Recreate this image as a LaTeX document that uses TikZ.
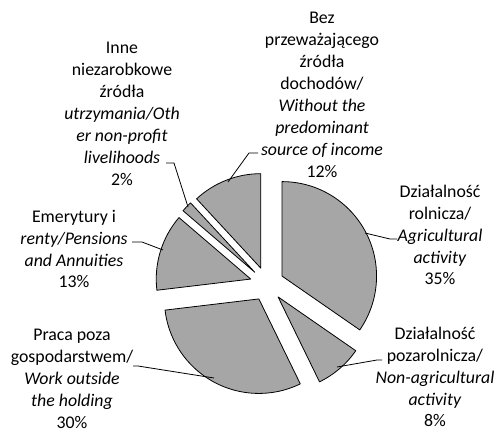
\documentclass[tikz,border=0pt]{standalone}
\usepackage{fontspec}
\setmainfont{Carlito}
\usetikzlibrary{calc}
\definecolor{pieGray}{RGB}{166,166,166}
\begin{document}
\begin{tikzpicture}[x=1pt,y=1pt,
  slice/.style={draw=black, line width=0.8pt, fill=pieGray, line join=round},
  lbl/.style={align=center, inner sep=0pt, font=\fontsize{17.8}{21.9}\selectfont},
  leader/.style={draw=black, line width=0.8pt}]
\useasboundingbox (0,0) rectangle (497,-433);
\coordinate (C) at (267,-284);
\foreach \a/\b/\n in {90/-34.7/agri, -34.7/-64/nonagri, -64/-173.2/work, -173.2/-220.6/pens, -220.6/-227.2/other, -227.2/-270/without} {
  \pgfmathsetmacro\m{(\a+\b)/2}
  \coordinate (tip-\n) at ($(C)+(\m:17)$);
  \draw[slice] (tip-\n) -- ++(\a:94.5) arc[start angle=\a, end angle=\b, radius=94.5] -- cycle;
}
% labels
\node[lbl] (lother) at (122,-114) {Inne\\niezarobkowe\\źródła\\\textit{utrzymania/Oth}\\\textit{er non-profit}\\\textit{livelihoods}\\2\%};
\node[lbl] (lwithout) at (322,-95) {Bez\\przeważającego\\źródła\\dochodów/\\\textit{Without the}\\\textit{predominant}\\\textit{source of income}\\12\%};
\node[lbl] (lagri) at (440,-235) {Działalność\\rolnicza/\\\textit{Agricultural}\\\textit{activity}\\35\%};
\node[lbl] (lnonagri) at (435,-377) {Działalność\\pozarolnicza/\\\textit{Non-agricultural}\\\textit{activity}\\8\%};
\node[lbl] (lpens) at (74,-249) {Emerytury i\\\textit{renty/Pensions}\\\textit{and Annuities}\\13\%};
\node[lbl] (lwork) at (72,-379) {Praca poza\\gospodarstwem/\\\textit{Work outside}\\\textit{the holding}\\30\%};
% leader lines
\coordinate (o1) at (166,-163); \coordinate (o2) at (174,-163); \coordinate (o3) at (188,-207);
\draw[leader] (o1) -- (o2) -- (o3);
\coordinate (w1) at (258,-153); \coordinate (w2) at (249,-153); \coordinate (w3) at (228,-182);
\draw[leader] (w1) -- (w2) -- (w3);
\coordinate (a1) at (397,-239); \coordinate (a2) at (390,-239); \coordinate (a3) at (365,-233);
\draw[leader] (a1) -- (a2) -- (a3);
\coordinate (n1) at (382,-360); \coordinate (n2) at (377,-360); \coordinate (n3) at (337,-367);
\draw[leader] (n1) -- (n2) -- (n3);
\coordinate (p1) at (132,-242); \coordinate (p2) at (142,-242); \coordinate (p3) at (163,-250);
\draw[leader] (p1) -- (p2) -- (p3);
\coordinate (k1) at (133,-366); \coordinate (k2) at (138,-366); \coordinate (k3) at (214,-378);
\draw[leader] (k1) -- (k2) -- (k3);
\end{tikzpicture}
\end{document}
